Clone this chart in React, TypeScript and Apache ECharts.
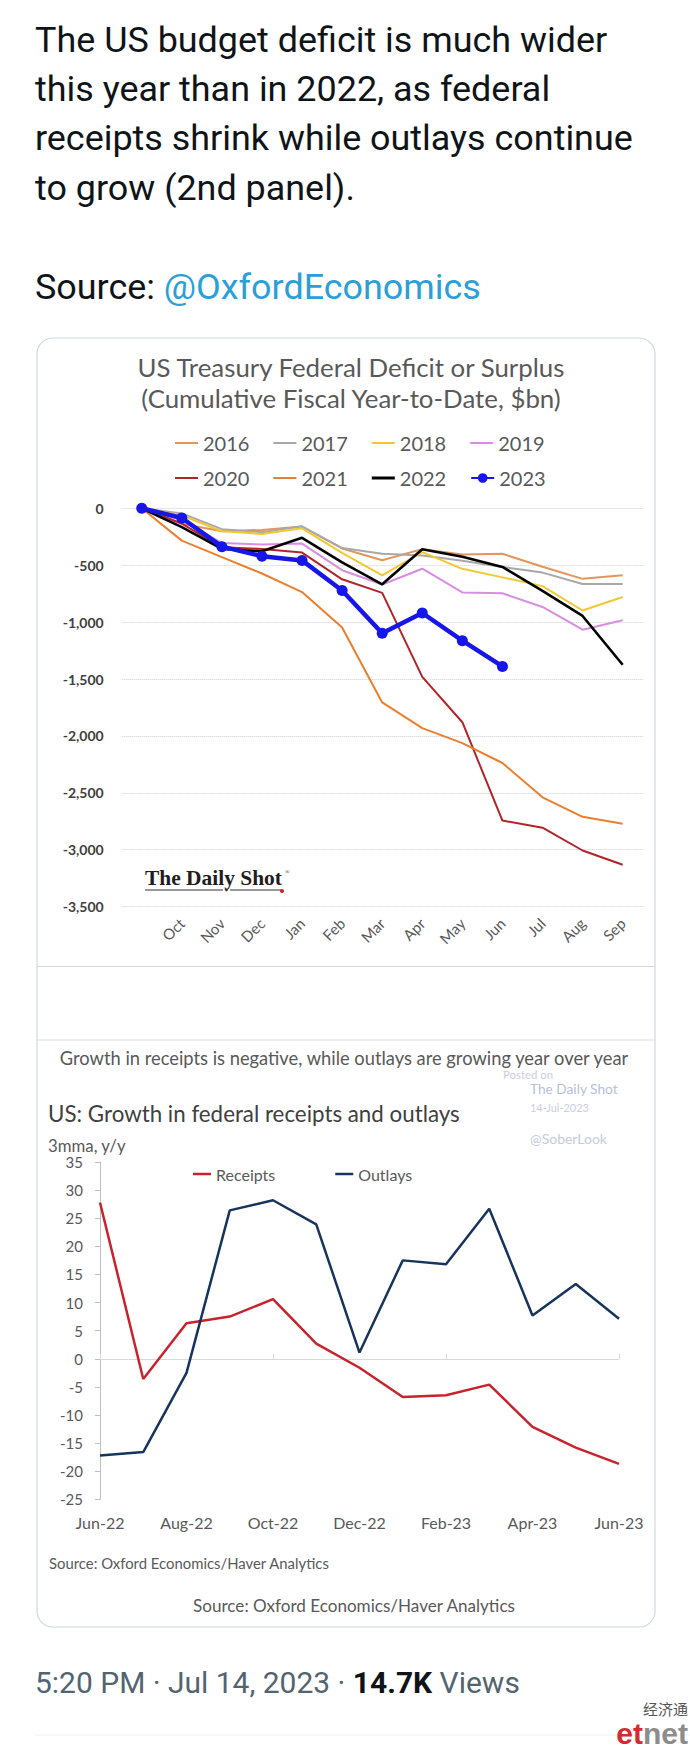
import React, { useEffect, useRef } from "react";
import * as echarts from "echarts";

// ---------- text content ----------
const TWEET_LINES = [
  "The US budget deficit is much wider",
  "this year than in 2022, as federal",
  "receipts shrink while outlays continue",
  "to grow (2nd panel).",
];
const SOURCE_LABEL = "Source: ";
const SOURCE_HANDLE = "@OxfordEconomics";

const CHART1_TITLE = ["US Treasury Federal Deficit or Surplus", "(Cumulative Fiscal Year-to-Date, $bn)"];
const CHART2_HEADER = "Growth in receipts is negative, while outlays are growing year over year";
const CHART2_TITLE = "US: Growth in federal receipts and outlays";
const CHART2_SUBTITLE = "3mma, y/y";
const CHART2_SOURCE = "Source: Oxford Economics/Haver Analytics";
const TIME_PARTS = ["5:20 PM · Jul 14, 2023 · ", "14.7K", " Views"];

// ---------- chart 1 data (cumulative fiscal year-to-date, $bn) ----------
const FY_CATEGORIES = ["", "Oct", "Nov", "Dec", "Jan", "Feb", "Mar", "Apr", "May", "Jun", "Jul", "Aug", "Sep"];
const FY2016 = [0, -136, -201, -190, -160, -353, -456, -359, -406, -400, -513, -620, -588];
const FY2017 = [0, -45, -183, -210, -158, -349, -400, -415, -460, -515, -565, -665, -666];
const FY2018 = [0, -63, -202, -225, -176, -391, -590, -385, -532, -607, -684, -898, -779];
const FY2019 = [0, -100, -305, -319, -310, -544, -670, -531, -739, -747, -867, -1067, -984];
const FY2020 = [0, -134, -343, -357, -389, -624, -743, -1481, -1880, -2744, -2807, -3007, -3132];
const FY2021 = [0, -284, -429, -573, -736, -1047, -1706, -1932, -2064, -2238, -2540, -2711, -2772];
const FY2022 = [0, -165, -357, -378, -259, -475, -668, -360, -426, -515, -726, -946, -1375];
const FY2023 = [0, -85, -337, -421, -458, -722, -1098, -920, -1163, -1390];

// ---------- chart 2 data (3mma, y/y %) ----------
const MONTHS = ["Jun-22", "Jul-22", "Aug-22", "Sep-22", "Oct-22", "Nov-22", "Dec-22", "Jan-23", "Feb-23", "Mar-23", "Apr-23", "May-23", "Jun-23"];
const RECEIPTS = [27.8, -3.6, 6.3, 7.5, 10.6, 2.7, -1.6, -6.8, -6.5, -4.6, -12.1, -15.8, -18.7];
const OUTLAYS = [-17.2, -16.6, -2.5, 26.4, 28.2, 23.9, 1.1, 17.5, 16.8, 26.7, 7.7, 13.3, 7.1];

const TW_FONT = "Roboto, 'Noto Sans', sans-serif";
const XL_FONT = "Lato, 'Noto Sans', sans-serif";
const SERIF_FONT = "'Liberation Serif', 'DejaVu Serif', serif";

let measureCtx: CanvasRenderingContext2D | null = null;
function textWidth(text: string, family: string, weight: string | number, size: number) {
  if (!measureCtx) measureCtx = document.createElement("canvas").getContext("2d");
  measureCtx!.font = `${weight} ${size}px ${family}`;
  return measureCtx!.measureText(text).width;
}
function fit(text: string, family: string, weight: string | number, target: number) {
  return (100 * target) / textWidth(text, family, weight, 100);
}

const LINE_ICON = "path://M0,0h23v2h-23z";
const THICK_LINE_ICON = "path://M0,0h23v3h-23z";
const LINE_ICON_2 = "path://M0,0h18v2.5h-18z";

export default function App() {
  const ref = useRef<HTMLDivElement>(null);

  useEffect(() => {
    const el = ref.current!;
    const chart = echarts.init(el, null, { renderer: "svg", width: 690, height: 1749 });

    const twSize = fit(TWEET_LINES[2], TW_FONT, "normal", 598);
    const t1Size = fit(CHART1_TITLE[0], XL_FONT, "normal", 429);
    const hdrSize = fit(CHART2_HEADER, XL_FONT, "normal", 571);
    const t2Size = fit(CHART2_TITLE, XL_FONT, "normal", 412);
    const subSize = fit(CHART2_SUBTITLE, XL_FONT, "normal", 78);
    const srcSmall = fit(CHART2_SOURCE, XL_FONT, "normal", 281);
    const srcBig = fit(CHART2_SOURCE, XL_FONT, "normal", 323);
    const logoSize = fit("The Daily Shot", SERIF_FONT, "bold", 137);
    const timeW =
      textWidth(TIME_PARTS[0], TW_FONT, "normal", 100) +
      textWidth(TIME_PARTS[1], TW_FONT, "bold", 100) +
      textWidth(TIME_PARTS[2], TW_FONT, "normal", 100);
    const timeSize = (100 * 485) / timeW;

    const txt = (
      text: string,
      x: number,
      y: number,
      size: number,
      fill: string,
      family: string,
      align = "left",
      weight: string | number = "normal",
      extra: any = {}
    ) => ({
      type: "text",
      x,
      y,
      style: {
        text,
        fontSize: size,
        fontFamily: family,
        fontWeight: weight,
        fill,
        textAlign: align,
        textVerticalAlign: "middle",
        align,
        verticalAlign: "middle",
        ...extra,
      },
    });

    const graphic: any[] = [];
    // tweet text
    const lineYs = [40, 89, 138, 188];
    TWEET_LINES.forEach((t, i) => graphic.push(txt(t, 35, lineYs[i], twSize, "#0f1419", TW_FONT)));
    graphic.push({
      type: "text",
      x: 35,
      y: 287,
      style: {
        text: `{a|${SOURCE_LABEL}}{b|${SOURCE_HANDLE}}`,
        textVerticalAlign: "middle",
        verticalAlign: "middle",
        rich: {
          a: { fontSize: twSize, fontFamily: TW_FONT, fill: "#0f1419", color: "#0f1419" },
          b: { fontSize: twSize, fontFamily: TW_FONT, fill: "#2a9fd8", color: "#2a9fd8" },
        },
      },
    });

    // card frame
    graphic.push({
      type: "rect",
      shape: { x: 37, y: 338, width: 618, height: 1289, r: 16 },
      style: { fill: "rgba(0,0,0,0)", stroke: "#cfd9de", lineWidth: 1.2 },
      z: -1,
    });
    graphic.push({ type: "line", shape: { x1: 37, y1: 966.5, x2: 655, y2: 966.5 }, style: { stroke: "#d6d6d6", lineWidth: 1.2 } });
    graphic.push({ type: "line", shape: { x1: 37, y1: 1040, x2: 655, y2: 1040 }, style: { stroke: "#dcdcdc", lineWidth: 1.2 } });

    // chart 1 title
    graphic.push(txt(CHART1_TITLE[0], 351, 367, t1Size, "#595959", XL_FONT, "center"));
    graphic.push(txt(CHART1_TITLE[1], 351, 398, t1Size, "#595959", XL_FONT, "center"));

    // The Daily Shot logo
    graphic.push(txt("The Daily Shot", 145, 878, logoSize, "#1e1e1e", SERIF_FONT, "left", "bold"));
    graphic.push({ type: "line", shape: { x1: 145, y1: 890, x2: 223, y2: 890 }, style: { stroke: "#333", lineWidth: 1.2 } });
    graphic.push({ type: "line", shape: { x1: 230, y1: 890, x2: 281, y2: 890 }, style: { stroke: "#333", lineWidth: 1.2 } });
    graphic.push({ type: "circle", shape: { cx: 226.5, cy: 890, r: 1.3 }, style: { fill: "#333" } });
    graphic.push({ type: "circle", shape: { cx: 282, cy: 891, r: 2 }, style: { fill: "#d0202a" } });
    graphic.push(txt("®", 285, 872, 6, "#333", SERIF_FONT));

    // chart 2 texts
    graphic.push(txt(CHART2_HEADER, 344, 1058, hdrSize, "#595959", XL_FONT, "center"));
    graphic.push(txt("Posted on", 503, 1074, fit("Posted on", XL_FONT, "normal", 50), "#c9cfe2", XL_FONT));
    graphic.push(txt("The Daily Shot", 530, 1088, fit("The Daily Shot", XL_FONT, "normal", 88), "#b7c0d8", XL_FONT));
    graphic.push(txt("14-Jul-2023", 530, 1107, fit("14-Jul-2023", XL_FONT, "normal", 59), "#c9cfe2", XL_FONT));
    graphic.push(txt("@SoberLook", 530, 1138, fit("@SoberLook", XL_FONT, "normal", 77), "#c4cbe0", XL_FONT));
    graphic.push(txt(CHART2_TITLE, 48, 1113, t2Size, "#404040", XL_FONT));
    graphic.push(txt(CHART2_SUBTITLE, 48, 1145, subSize, "#595959", XL_FONT));
    graphic.push(txt(CHART2_SOURCE, 49, 1563, srcSmall, "#595959", XL_FONT));
    graphic.push(txt(CHART2_SOURCE, 354, 1605, srcBig, "#595959", XL_FONT, "center"));

    // timestamp
    graphic.push({
      type: "text",
      x: 35,
      y: 1682,
      style: {
        text: `{a|${TIME_PARTS[0]}}{b|${TIME_PARTS[1]}}{a|${TIME_PARTS[2]}}`,
        textVerticalAlign: "middle",
        verticalAlign: "middle",
        rich: {
          a: { fontSize: timeSize, fontFamily: TW_FONT, fill: "#536471", color: "#536471" },
          b: { fontSize: timeSize, fontFamily: TW_FONT, fontWeight: "bold", fill: "#0f1419", color: "#0f1419" },
        },
      },
    });
    graphic.push({ type: "line", shape: { x1: 35, y1: 1735, x2: 690, y2: 1735 }, style: { stroke: "#eff3f4", lineWidth: 1.2 } });

    // etnet logo
    graphic.push(txt("经济通", 688, 1708, 15, "#555555", "'Noto Sans CJK SC', sans-serif", "right", "normal", { letterSpacing: 2 }));
    graphic.push({
      type: "text",
      x: 688,
      y: 1733,
      style: {
        text: "{a|et}{b|net}",
        textAlign: "right",
        align: "right",
        textVerticalAlign: "middle",
        verticalAlign: "middle",
        rich: {
          a: { fontSize: 30, fontWeight: "bold", fontFamily: "'Liberation Sans', Arial, sans-serif", fill: "#d42a32", color: "#d42a32" },
          b: { fontSize: 30, fontWeight: "bold", fontFamily: "'Liberation Sans', Arial, sans-serif", fill: "#8c8c8c", color: "#8c8c8c" },
        },
      },
    });

    const yearStyles: Record<string, { color: string; width: number }> = {
      "2016": { color: "#E3955A", width: 2 },
      "2017": { color: "#A8A8A8", width: 2 },
      "2018": { color: "#F2C832", width: 2 },
      "2019": { color: "#D88DE2", width: 2 },
      "2020": { color: "#B32428", width: 2 },
      "2021": { color: "#EC7F2E", width: 2 },
      "2022": { color: "#000000", width: 2.6 },
    };
    const yearData: [string, number[]][] = [
      ["2016", FY2016],
      ["2017", FY2017],
      ["2018", FY2018],
      ["2019", FY2019],
      ["2020", FY2020],
      ["2021", FY2021],
      ["2022", FY2022],
    ];

    const series: any[] = yearData.map(([name, data]) => ({
      name,
      type: "line",
      xAxisIndex: 0,
      yAxisIndex: 0,
      data,
      symbol: "none",
      color: yearStyles[name].color,
      lineStyle: { color: yearStyles[name].color, width: yearStyles[name].width },
    }));
    series.push({
      name: "2023",
      type: "line",
      xAxisIndex: 0,
      yAxisIndex: 0,
      data: FY2023,
      symbol: "circle",
      symbolSize: 11,
      color: "#1616e8",
      itemStyle: { color: "#1616e8" },
      lineStyle: { color: "#1616e8", width: 4.5 },
    });
    series.push({
      name: "Receipts",
      type: "line",
      xAxisIndex: 1,
      yAxisIndex: 1,
      data: RECEIPTS,
      symbol: "none",
      color: "#C8232C",
      lineStyle: { color: "#C8232C", width: 2.5 },
    });
    series.push({
      name: "Outlays",
      type: "line",
      xAxisIndex: 1,
      yAxisIndex: 1,
      data: OUTLAYS,
      symbol: "none",
      color: "#17345C",
      lineStyle: { color: "#17345C", width: 2.5 },
    });

    const legendBase = {
      orient: "horizontal",
      padding: 0,
      itemWidth: 23,
      itemHeight: 12,
      itemGap: 24,
      selectedMode: false,
      textStyle: { fontSize: 20, color: "#595959", fontFamily: XL_FONT },
    };
    const li = (name: string, icon: string) => ({ name, icon });

    const option: any = {
      animation: false,
      backgroundColor: "#ffffff",
      textStyle: { fontFamily: XL_FONT },
      graphic,
      legend: [
        {
          ...legendBase,
          left: 175,
          top: 433,
          data: [li("2016", LINE_ICON), li("2017", LINE_ICON), li("2018", LINE_ICON), li("2019", LINE_ICON)],
        },
        {
          ...legendBase,
          left: 175,
          top: 468,
          data: [li("2020", LINE_ICON), li("2021", LINE_ICON), li("2022", THICK_LINE_ICON), { name: "2023" }],
        },
        {
          ...legendBase,
          left: 193,
          top: 1166,
          itemWidth: 18,
          itemGap: 60,
          textStyle: { fontSize: 16, color: "#595959", fontFamily: XL_FONT },
          data: [li("Receipts", LINE_ICON_2), li("Outlays", LINE_ICON_2)],
        },
      ],
      grid: [
        { left: 121.7, top: 508.3, width: 521, height: 398.3 },
        { left: 100, top: 1162, width: 519, height: 337.3 },
      ],
      xAxis: [
        {
          type: "category",
          gridIndex: 0,
          data: FY_CATEGORIES,
          boundaryGap: true,
          axisLine: { show: false },
          axisTick: { show: false },
          axisLabel: { rotate: 45, interval: 0, color: "#595959", fontSize: 15, margin: 14, fontFamily: XL_FONT },
        },
        {
          type: "category",
          gridIndex: 1,
          data: MONTHS,
          boundaryGap: false,
          position: "bottom",
          axisLine: { show: false, onZero: false },
          axisTick: { show: false },
          axisLabel: { interval: 1, color: "#595959", fontSize: 16, margin: 15, fontFamily: XL_FONT },
        },
        {
          type: "category",
          gridIndex: 1,
          data: MONTHS,
          boundaryGap: false,
          axisLine: { show: true, onZero: true, lineStyle: { color: "#d9d9d9", width: 1 } },
          axisTick: { show: true, interval: 3, length: 5, lineStyle: { color: "#d9d9d9" } },
          axisLabel: { show: false },
        },
      ],
      yAxis: [
        {
          type: "value",
          gridIndex: 0,
          min: -3500,
          max: 0,
          interval: 500,
          axisLine: { show: false },
          axisTick: { show: false },
          splitLine: { show: true, lineStyle: { type: "dotted", color: "#cfcfcf", width: 1 } },
          axisLabel: {
            color: "#404040",
            fontWeight: "bold",
            fontSize: 14,
            margin: 18,
            fontFamily: XL_FONT,
            formatter: (v: number) => v.toLocaleString("en-US"),
          },
        },
        {
          type: "value",
          gridIndex: 1,
          min: -25,
          max: 35,
          interval: 5,
          axisLine: { show: true, lineStyle: { color: "#bfbfbf", width: 1 } },
          axisTick: { show: true, length: 5, lineStyle: { color: "#bfbfbf" } },
          splitLine: { show: false },
          axisLabel: { color: "#595959", fontSize: 15, margin: 17, fontFamily: XL_FONT },
        },
      ],
      series,
    };

    chart.setOption(option);
    return () => chart.dispose();
  }, []);

  return (
    <div
      ref={ref}
      style={{ position: "absolute", left: 0, top: 0, width: 690, height: 1749, background: "#ffffff" }}
    />
  );
}
